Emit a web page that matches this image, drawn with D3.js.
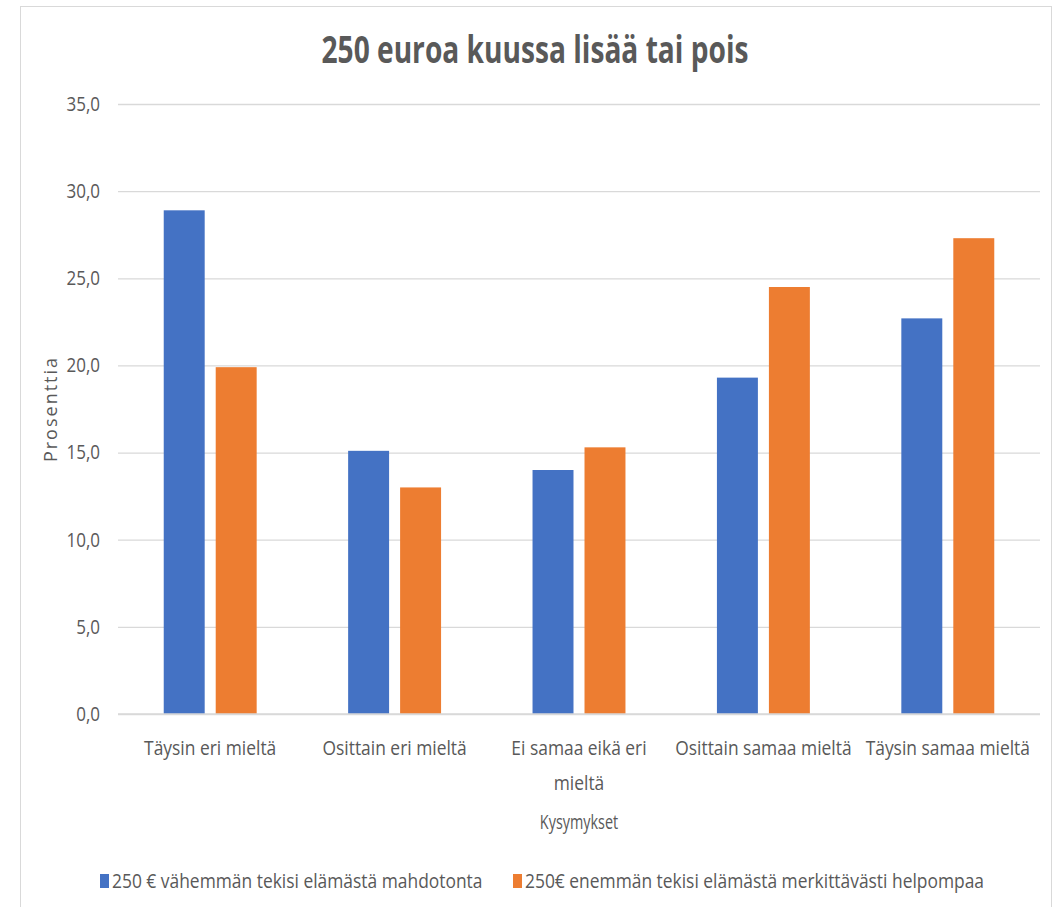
<!DOCTYPE html>
<html>
<head>
<meta charset="utf-8">
<script src="https://cdn.jsdelivr.net/npm/d3@7"></script>
<style>
  body { margin: 0; background: #fff; }
  text { font-family: "Open Sans", sans-serif; fill: #595959; }
</style>
</head>
<body>
<div id="container"></div>
<script>
/* CONSTANTS AND GLOBALS */
const width = 1061,
  height = 907,
  margin = { top: 104, bottom: 192, left: 118, right: 21 };

// data
const categories = ["Täysin eri mieltä", "Osittain eri mieltä", "Ei samaa eikä eri mieltä", "Osittain samaa mieltä", "Täysin samaa mieltä"];
const seriesNames = ["250 € vähemmän tekisi elämästä mahdotonta", "250€ enemmän tekisi elämästä merkittävästi helpompaa"];
const lessValues = [28.9, 15.1, 14.0, 19.3, 22.7];
const moreValues = [19.9, 13.0, 15.3, 24.5, 27.3];
const yTicks = [0, 5, 10, 15, 20, 25, 30, 35];
const colors = ["#4472C4", "#ED7D31"];

let xScale, xSub, yScale;

/* APPLICATION STATE */
let state = {
  data: categories.map((c, i) => ({ cat: c, values: [lessValues[i], moreValues[i]] })),
};

// the original font is a narrow one (Calibri), so squeeze text horizontally
function condense(sel, f) {
  sel.each(function () {
    const len = this.getComputedTextLength();
    this.setAttribute("textLength", len * f);
    this.setAttribute("lengthAdjust", "spacingAndGlyphs");
  });
}

init();

function init() {
  xScale = d3.scaleBand()
    .domain(categories)
    .range([margin.left, width - margin.right])
    .paddingInner(0.496)
    .paddingOuter(0.248);

  xSub = d3.scaleBand()
    .domain([0, 1])
    .range([0, xScale.bandwidth()])
    .paddingInner(0.212);

  yScale = d3.scaleLinear()
    .domain([0, 35])
    .range([height - margin.bottom - 1, margin.top]);

  draw();
}

function draw() {
  const svg = d3.select("#container")
    .append("svg")
    .attr("width", width)
    .attr("height", height);

  // chart border
  svg.append("rect")
    .attr("x", 20.5).attr("y", 6.5)
    .attr("width", 1031).attr("height", 910)
    .attr("fill", "none")
    .attr("stroke", "#d9d9d9");

  // gridlines + y labels
  const yAxis = svg.append("g")
    .attr("transform", `translate(${margin.left},0)`)
    .call(d3.axisLeft(yScale)
      .tickValues(yTicks)
      .tickSize(-(width - margin.left - margin.right))
      .tickPadding(18)
      .tickFormat(d => d3.format(".1f")(d).replace(".", ",")));
  yAxis.select(".domain").remove();
  yAxis.selectAll(".tick line").attr("stroke", "#d9d9d9").attr("stroke-width", 1.3);
  yAxis.selectAll(".tick text")
    .attr("font-size", 20)
    .attr("fill", "#595959")
    .attr("font-family", "Open Sans, sans-serif")
    .call(condense, 0.85);

  // bars
  const groups = svg.selectAll("g.group")
    .data(state.data)
    .join("g")
    .attr("class", "group")
    .attr("transform", d => `translate(${xScale(d.cat)},0)`);

  groups.selectAll("rect")
    .data(d => d.values)
    .join("rect")
    .attr("x", (d, i) => xSub(i))
    .attr("width", xSub.bandwidth())
    .attr("y", d => yScale(d))
    .attr("height", d => yScale(0) - yScale(d))
    .attr("fill", (d, i) => colors[i]);

  // x axis line
  svg.append("line")
    .attr("x1", margin.left).attr("x2", width - margin.right)
    .attr("y1", yScale(0)).attr("y2", yScale(0))
    .attr("stroke", "#d9d9d9").attr("stroke-width", 1.5);

  // category labels (wrap the long one)
  const wrapAt = { "Ei samaa eikä eri mieltä": ["Ei samaa eikä eri", "mieltä"] };
  svg.selectAll("text.cat")
    .data(categories)
    .join("text")
    .attr("class", "cat")
    .attr("text-anchor", "middle")
    .attr("font-size", 20)
    .attr("x", d => xScale(d) + xScale.bandwidth() / 2)
    .attr("y", 755)
    .selectAll("tspan")
    .data(d => wrapAt[d] || [d])
    .join("tspan")
    .attr("x", function () { return this.parentNode.getAttribute("x"); })
    .attr("dy", (d, i) => i === 0 ? 0 : 35)
    .text(d => d)
    .call(condense, 0.87);

  // x title
  svg.append("text")
    .attr("x", xScale(categories[2]) + xScale.bandwidth() / 2)
    .attr("y", 829)
    .attr("text-anchor", "middle")
    .attr("font-size", 20)
    .text("Kysymykset")
    .call(condense, 0.72);

  // y title
  svg.append("text")
    .attr("transform", `translate(57,${(yScale(0) + yScale(35)) / 2}) rotate(-90)`)
    .attr("text-anchor", "middle")
    .attr("font-size", 18)
    .attr("letter-spacing", 2)
    .text("Prosenttia");

  // title
  svg.append("text")
    .attr("x", 535)
    .attr("y", 63)
    .attr("text-anchor", "middle")
    .attr("font-size", 37)
    .attr("font-weight", "bold")
    .text("250 euroa kuussa lisää tai pois")
    .call(condense, 0.76);

  // legend
  const legendX = [100, 513];
  const legend = svg.selectAll("g.legend")
    .data(seriesNames)
    .join("g")
    .attr("class", "legend")
    .attr("transform", (d, i) => `translate(${legendX[i]},874)`);
  legend.append("rect")
    .attr("width", 9).attr("height", 14)
    .attr("fill", (d, i) => colors[i]);
  legend.append("text")
    .attr("x", 12).attr("y", 14)
    .attr("font-size", 20)
    .text(d => d)
    .call(condense, 0.87);
}
</script>
</body>
</html>
